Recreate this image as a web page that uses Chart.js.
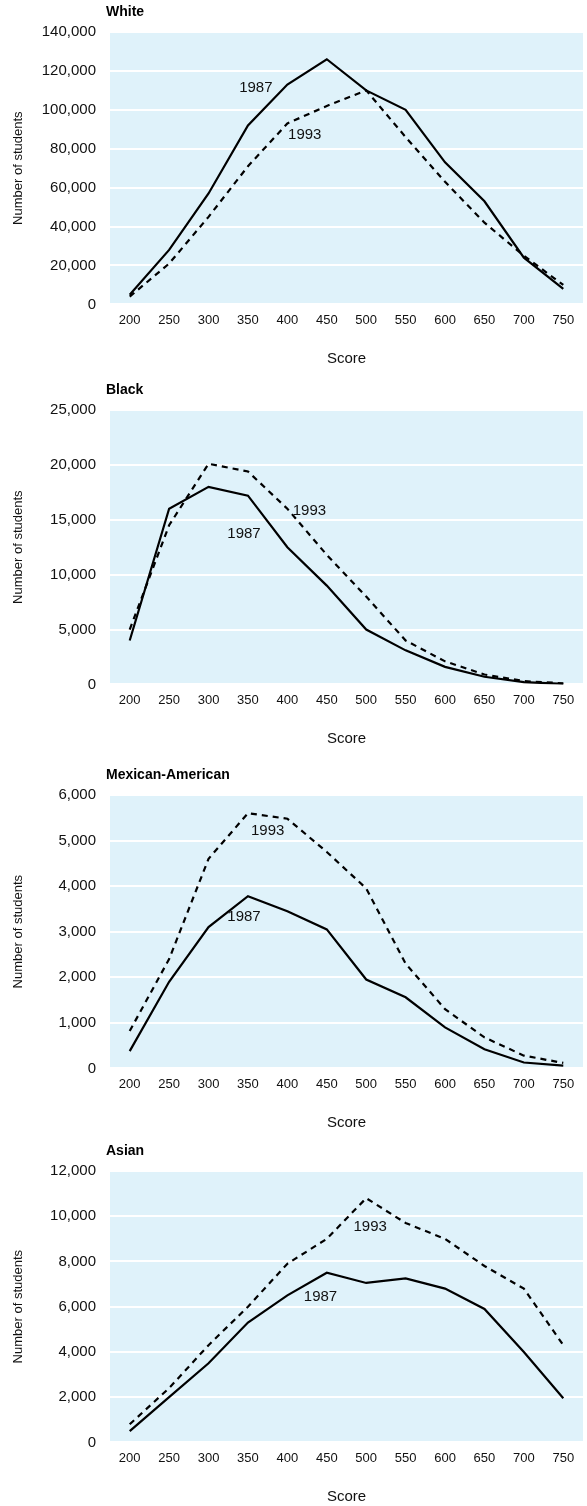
<!DOCTYPE html>
<html>
<head>
<meta charset="utf-8">
<script src="https://cdn.jsdelivr.net/npm/chart.js@4.4.1/dist/chart.umd.min.js"></script>
<style>
  body { margin: 0; background: #fff; }
  .panel { position: relative; width: 587px; }
</style>
</head>
<body>
<div class="panel" style="height:378px"><canvas id="whiteChart"></canvas></div>
<div class="panel" style="height:385px"><canvas id="blackChart"></canvas></div>
<div class="panel" style="height:376px"><canvas id="mexicanChart"></canvas></div>
<div class="panel" style="height:367px"><canvas id="asianChart"></canvas></div>
<script>
// Score categories (x axis)
const scores = ['200', '250', '300', '350', '400', '450', '500', '550', '600', '650', '700', '750'];

// Number of students per score, by group and year
const white1987 = [5000, 28000, 57000, 92000, 113000, 126000, 110000, 100000, 73000, 53000, 24000, 8000];
const white1993 = [4000, 21000, 45000, 71000, 93000, 102000, 110000, 86000, 63000, 42000, 25000, 10000];

const black1987 = [4000, 16000, 18000, 17200, 12500, 9000, 5000, 3100, 1600, 700, 200, 50];
const black1993 = [5000, 14500, 20100, 19400, 16000, 11800, 8000, 4000, 2100, 900, 300, 100];

const mexican1987 = [380, 1900, 3100, 3780, 3450, 3050, 1950, 1560, 900, 420, 130, 60];
const mexican1993 = [820, 2400, 4600, 5600, 5480, 4750, 3950, 2300, 1300, 680, 280, 120];

const asian1987 = [500, 2000, 3500, 5300, 6500, 7500, 7050, 7250, 6800, 5900, 4000, 1950];
const asian1993 = [800, 2400, 4300, 6000, 7900, 9000, 10800, 9700, 9000, 7800, 6800, 4300];

// Axis ranges
const yMax = { white: 140000, black: 25000, mexican: 6000, asian: 12000 };
const yStep = { white: 20000, black: 5000, mexican: 1000, asian: 2000 };

// Year labels inside the plot: [text, score, students]
const whiteNotes = [['1987', 360, 111500], ['1993', 422, 87000]];
const blackNotes = [['1993', 428, 15800], ['1987', 345, 13700]];
const mexicanNotes = [['1993', 375, 5220], ['1987', 345, 3330]];
const asianNotes = [['1993', 505, 9550], ['1987', 442, 6450]];

const FONT = "'Liberation Sans', Arial, Helvetica, sans-serif";

// panel background, heading and year labels
const panelText = {
    id: 'panelText',
    beforeDraw(chart, args, opts) {
        const { ctx, chartArea } = chart;
        ctx.save();
        ctx.fillStyle = '#dff2fa';
        ctx.fillRect(chartArea.left, chartArea.top, chartArea.right - chartArea.left, chartArea.bottom - chartArea.top);
        ctx.restore();
    },
    afterDraw(chart, args, opts) {
        const { ctx, chartArea, scales } = chart;
        ctx.save();
        ctx.fillStyle = '#000';
        ctx.font = 'bold 14px ' + FONT;
        ctx.textAlign = 'left';
        ctx.textBaseline = 'middle';
        ctx.fillText(opts.title, chartArea.left - 4, chartArea.top - 20);
        ctx.font = '15px ' + FONT;
        ctx.fillStyle = '#111';
        ctx.textAlign = 'center';
        (opts.notes || []).forEach(n => {
            const idx = (n[1] - 200) / 50;
            ctx.fillText(n[0], scales.x.getPixelForValue(idx), scales.y.getPixelForValue(n[2]));
        });
        ctx.restore();
    }
};

function makeChart(id, title, d1987, d1993, max, step, notes, padBottom) {
    const ctx = document.getElementById(id).getContext('2d');
    return new Chart(ctx, {
        type: 'line',
        data: {
            labels: scores,
            datasets: [{
                label: '1987',
                data: d1987,
                borderColor: '#000',
                borderWidth: 2.2,
                pointRadius: 0,
                tension: 0,
                fill: false
            }, {
                label: '1993',
                data: d1993,
                borderColor: '#000',
                borderWidth: 2.2,
                borderDash: [6, 5],
                pointRadius: 0,
                tension: 0,
                fill: false
            }]
        },
        options: {
            responsive: true,
            maintainAspectRatio: false,
            animation: false,
            layout: { padding: { top: 32, right: 4, left: 0, bottom: padBottom } },
            plugins: {
                legend: { display: false },
                tooltip: { enabled: false },
                panelText: { title: title, notes: notes }
            },
            scales: {
                x: {
                    offset: true,
                    grid: { display: false, drawTicks: false },
                    border: { display: false },
                    ticks: { color: '#111', font: { family: FONT, size: 13 }, padding: 8, maxRotation: 0 },
                    title: { display: true, text: 'Score', color: '#111', font: { family: FONT, size: 15 }, padding: { top: 14, bottom: 0 } }
                },
                y: {
                    min: 0,
                    max: max,
                    afterFit(scale) { scale.width = 110; },
                    grid: { color: '#ffffff', lineWidth: 2, drawTicks: false },
                    border: { display: false },
                    ticks: {
                        stepSize: step,
                        color: '#111',
                        padding: 14,
                        font: { family: FONT, size: 15 },
                        callback: v => v.toLocaleString('en-US')
                    },
                    title: { display: true, text: 'Number of students', color: '#111', font: { family: FONT, size: 13 }, padding: { top: 11 } }
                }
            }
        },
        plugins: [panelText]
    });
}

makeChart('whiteChart', 'White', white1987, white1993, yMax.white, yStep.white, whiteNotes, 10);
makeChart('blackChart', 'Black', black1987, black1993, yMax.black, yStep.black, blackNotes, 15);
makeChart('mexicanChart', 'Mexican-American', mexican1987, mexican1993, yMax.mexican, yStep.mexican, mexicanNotes, 7);
makeChart('asianChart', 'Asian', asian1987, asian1993, yMax.asian, yStep.asian, asianNotes, 0);
</script>
</body>
</html>
